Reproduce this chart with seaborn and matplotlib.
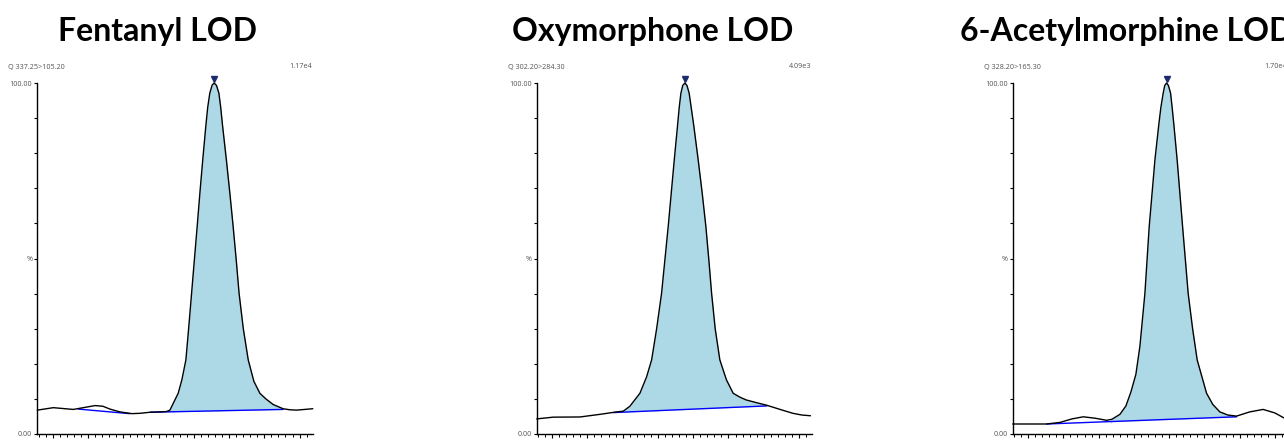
import numpy as np
import pandas as pd
import matplotlib
matplotlib.use("Agg")
import matplotlib.pyplot as plt
import seaborn as sns
from matplotlib.ticker import FixedLocator, NullFormatter, FixedFormatter

# ---------------- data ----------------
titles = ["Fentanyl LOD", "Oxymorphone LOD", "6-Acetylmorphine LOD"]
channels = ["Q 337.25>105.20", "Q 302.20>284.30", "Q 328.20>165.30"]
intensities = ["1.17e4", "4.09e3", "1.70e4"]
ytick_vals = [0, 50, 100]
ytick_labels = ["0.00", "%", "100.00"]

fent_t = [0.0, 2.27, 5.1, 6.8, 8.2, 9.3, 10.3, 11.7, 13.4, 14.6, 16.0, 17.4, 18.3, 18.8,
          19.26, 19.97, 20.5, 21.06, 21.45, 21.87, 22.28, 22.66, 23.06, 23.45, 23.9, 24.15,
          24.45, 24.78, 25.07, 25.4, 25.74, 26.0, 26.25, 26.8, 27.3, 27.76, 28.2, 28.6,
          29.2, 29.9, 30.7, 31.55, 32.4, 33.43, 34.84, 35.8, 36.74, 37.9, 39.05]
fent_pct = [6.8, 7.5, 7.0, 7.6, 8.1, 7.9, 7.1, 6.3, 5.8, 5.9, 6.2, 6.3, 6.4, 6.8,
            8.7, 11.6, 15.5, 21.1, 30.0, 40.1, 50.0, 59.1, 69.0, 78.1, 88.0, 93.0,
            97.1, 99.4, 100.0, 99.3, 97.1, 93.0, 88.0, 78.1, 68.5, 59.1, 49.5, 40.1,
            30.0, 21.1, 15.0, 11.6, 10.0, 8.4, 7.2, 6.9, 6.8, 7.0, 7.2]
fent_base_t = [16.0, 34.84]
fent_base_pct = [6.2, 7.0]
fent_minor_base_t = [5.8, 13.1]
fent_minor_base_pct = [7.1, 5.8]
fent_apex = 25.07

oxy_t = [0.0, 2.35, 6.13, 8.97, 11.33, 12.27, 13.2, 14.63, 15.58, 16.29, 17.0, 17.7,
         18.17, 18.64, 19.07, 19.5, 19.95, 20.2, 20.44, 20.7, 21.0, 21.3, 21.61, 21.9,
         22.28, 22.89, 23.46, 23.98, 24.4, 24.79, 25.3, 25.96, 26.9, 27.85, 28.8, 29.7,
         31.2, 32.6, 34.5, 36.3, 37.6, 38.8]
oxy_pct = [4.3, 4.8, 4.85, 5.6, 6.3, 6.5, 7.9, 11.6, 16.3, 21.1, 30.0, 40.1,
           49.6, 59.1, 68.6, 78.1, 87.6, 93.0, 97.1, 99.3, 100.0, 99.3, 97.1, 93.0,
           87.6, 78.1, 68.6, 59.1, 49.6, 40.1, 30.0, 21.1, 15.4, 11.6, 10.5, 9.7,
           8.9, 8.2, 7.0, 5.9, 5.4, 5.2]
oxy_base_t = [10.85, 32.6]
oxy_base_pct = [6.1, 8.0]
oxy_apex = 21.0

acm_t = [0.0, 4.82, 6.7, 8.4, 10.0, 11.66, 13.31, 14.07, 15.2, 16.05, 16.76, 17.46,
         18.03, 18.74, 19.35, 20.16, 20.7, 21.0, 21.33, 21.55, 21.81, 22.07, 22.38,
         22.6, 22.85, 23.31, 24.08, 24.87, 25.5, 26.15, 27.48, 28.37, 29.36, 30.5,
         31.73, 33.6, 35.5, 37.16, 38.43, 39.0]
acm_pct = [2.85, 2.85, 3.3, 4.3, 4.9, 4.5, 3.9, 4.2, 5.6, 8.0, 12.0, 17.0,
           25.0, 40.1, 59.1, 78.1, 88.0, 93.0, 97.1, 99.3, 100.0, 99.3, 97.1,
           93.0, 88.0, 78.1, 59.1, 40.1, 30.0, 21.1, 11.6, 8.4, 6.3, 5.4,
           5.1, 6.3, 7.0, 6.0, 4.6, 4.0]
acm_base_t = [4.82, 31.73]
acm_base_pct = [2.85, 4.9]
acm_apex = 21.81
acm_mark_t = [14.0, 14.0]
acm_mark_pct = [3.2, 4.2]

panels = [
    dict(t=fent_t, y=fent_pct, bt=fent_base_t, by=fent_base_pct, fill_from=16.0,
         apex=fent_apex, extra=[(fent_minor_base_t, fent_minor_base_pct)]),
    dict(t=oxy_t, y=oxy_pct, bt=oxy_base_t, by=oxy_base_pct, fill_from=10.85,
         apex=oxy_apex, extra=[]),
    dict(t=acm_t, y=acm_pct, bt=acm_base_t, by=acm_base_pct, fill_from=14.0,
         apex=acm_apex, extra=[(acm_mark_t, acm_mark_pct)]),
]

# ---------------- style ----------------
sns.set_theme(style="white")
plt.rcParams['font.family'] = ['Open Sans', 'DejaVu Sans']

W, H = 1284, 441
fig = plt.figure(figsize=(W / 100, H / 100), dpi=100)
fig.patch.set_facecolor("white")

ax_left_px = [37.3, 536.7, 1012.7]
ax_w_px = 275.5
top_px, bot_px = 83, 434
title_x_px = [158, 653, 960]
title_ha = ["center", "center", "left"]

fill_color = "#ADD8E6"
base_color = "#0000FF"
apex_color = "#1C2A6E"
label_color = "#555555"

for i, p in enumerate(panels):
    ax = fig.add_axes([ax_left_px[i] / W, 1 - bot_px / H, ax_w_px / W, (bot_px - top_px) / H])
    ax.set_facecolor("white")
    t = np.array(p["t"])
    y = np.array(p["y"])

    # integrated area
    bt = np.array(p["bt"]); by = np.array(p["by"])
    m = (t >= p["fill_from"]) & (t <= bt[1])
    tt = t[m]
    base_at = np.interp(tt, bt, by)
    ax.fill_between(tt, y[m], base_at, where=y[m] >= base_at, interpolate=True,
                    color=fill_color, lw=0, zorder=1)

    # baselines
    sns.lineplot(x=bt, y=by, ax=ax, color=base_color, lw=1.0, zorder=2)
    for et, ey in p["extra"]:
        sns.lineplot(x=et, y=ey, ax=ax, color=base_color, lw=1.0, zorder=2)

    # trace
    df = pd.DataFrame({"t": t, "pct": y})
    sns.lineplot(data=df, x="t", y="pct", ax=ax, color="black", lw=1.0,
                 zorder=3, sort=False, estimator=None)
    for ln in ax.lines:
        ln.set_clip_on(False)
        ln.set_solid_joinstyle("round")

    # apex marker
    ax.plot([p["apex"]], [101.0], marker="v", color=apex_color, markersize=4.2,
            clip_on=False, zorder=4, lw=0)

    ax.set_xlim(0, 39.05)
    ax.set_ylim(0, 100)
    ax.set_xlabel("")
    ax.set_ylabel("")

    # spines
    for s in ["top", "right"]:
        ax.spines[s].set_visible(False)
    for s in ["left", "bottom"]:
        ax.spines[s].set_color("black")
        ax.spines[s].set_linewidth(1.0)

    # ticks
    ax.yaxis.set_major_locator(FixedLocator(ytick_vals))
    ax.yaxis.set_major_formatter(FixedFormatter(ytick_labels))
    ax.yaxis.set_minor_locator(FixedLocator(np.arange(0, 101, 10)))
    ax.xaxis.set_major_locator(FixedLocator(np.arange(2.18, 39.1, 5)))
    ax.xaxis.set_minor_locator(FixedLocator(np.arange(0.18, 39.1, 1)))
    ax.xaxis.set_major_formatter(NullFormatter())
    ax.tick_params(axis="y", which="both", direction="out", length=2.4, width=0.8,
                   color="black", labelsize=5.2, labelcolor=label_color, pad=1.2, left=True)
    ax.tick_params(axis="x", which="major", direction="out", length=2.6, width=0.8,
                   color="black", bottom=True)
    ax.tick_params(axis="x", which="minor", direction="out", length=2.0, width=0.7,
                   color="black", bottom=True)

    # header labels
    ax.annotate(channels[i], xy=(0, 1), xycoords="axes fraction", xytext=(-29, 16),
                textcoords="offset pixels", ha="left", va="center", fontsize=5.2,
                color=label_color)
    ax.annotate(intensities[i], xy=(1, 1), xycoords="axes fraction", xytext=(-1, 16),
                textcoords="offset pixels", ha="right", va="center", fontsize=5.2,
                color=label_color)

    fig.text(title_x_px[i] / W, 1 - 41 / H, titles[i], ha=title_ha[i], va="baseline",
             fontsize=23, fontweight="bold", family=["Lato", "DejaVu Sans"], color="black")

fig.savefig("out.png", dpi=100, facecolor="white")
